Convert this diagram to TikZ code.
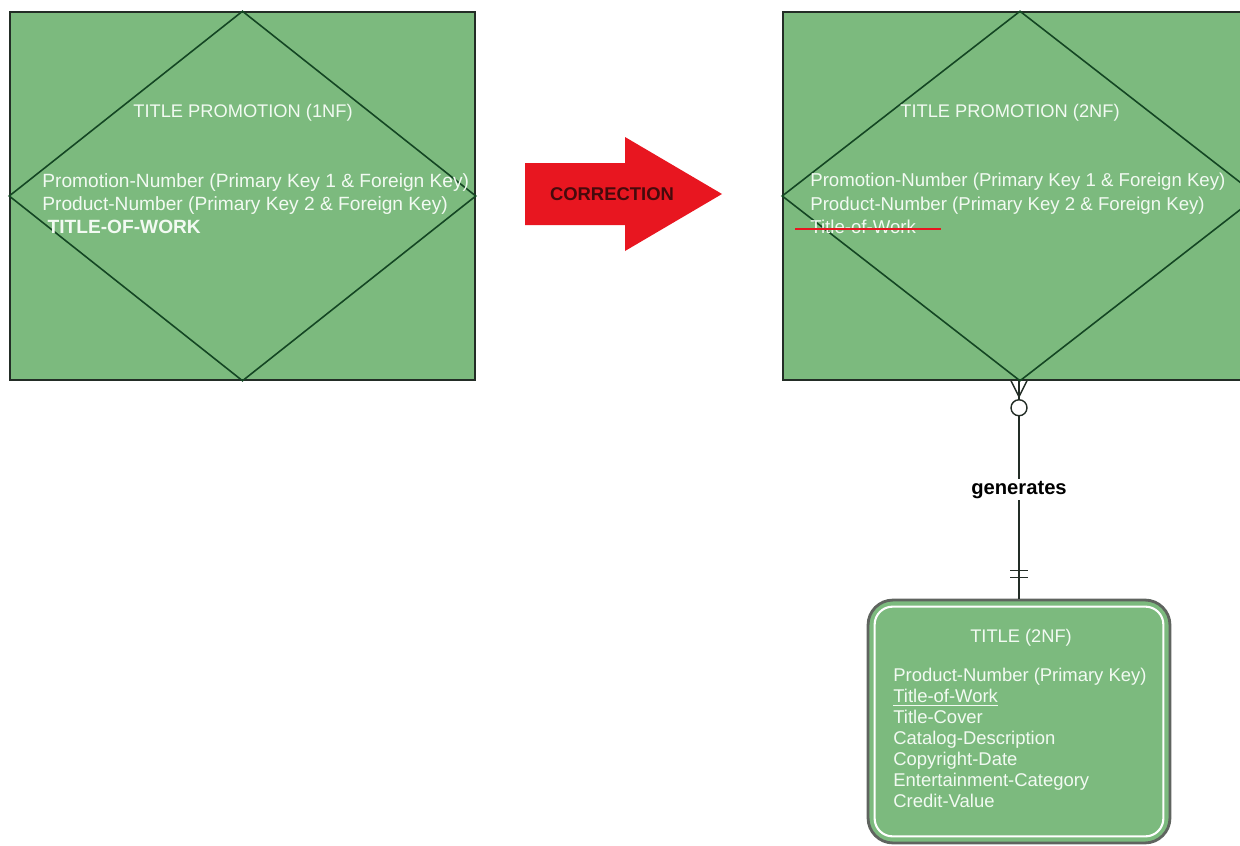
\documentclass[tikz,border=0pt]{standalone}
\usepackage{fontspec}
\setmainfont{Liberation Sans}
\usetikzlibrary{positioning,calc}
\usepackage{xcolor}
\definecolor{ERGreen}{RGB}{124,186,126}
\definecolor{ERLine}{RGB}{35,45,38}
\definecolor{ERDiamond}{RGB}{20,70,35}
\definecolor{ERGray}{RGB}{95,100,95}
\definecolor{ERRed}{RGB}{232,22,32}
\definecolor{ERDark}{RGB}{70,10,12}
\definecolor{ERText}{RGB}{242,250,242}

\begin{document}
\begin{tikzpicture}[
x=0.02cm,y=-0.02cm,
entity/.style={
rectangle,
draw=ERLine,
line width=0.9pt,
fill=ERGreen,
inner sep=0pt
},
weakentity/.style={
rectangle,
rounded corners=0.5cm,
draw=ERGray,
line width=1.6pt,
fill=ERGreen,
minimum width=6.04cm,
minimum height=4.86cm
},
diamondline/.style={
draw=ERDiamond,
line width=0.9pt
},
heading/.style={
text=ERText,
inner sep=0pt,
font=\fontsize{10.4}{12}\selectfont
},
attrs/.style={
text=ERText,
align=left,
anchor=north west,
inner sep=0pt,
font=\fontsize{10.6}{13.3}\selectfont
},
strike/.style={
draw=ERRed,
line width=1pt
},
relline/.style={
draw=ERLine,
line width=0.8pt
},
rellabel/.style={
fill=white,
inner sep=1pt,
font=\bfseries\fontsize{11.5}{13}\selectfont
}
]

\useasboundingbox (0,0) rectangle (1240,845);

% 1NF entity
\node[entity,minimum width=9.3cm,minimum height=7.36cm] (promo1) at (242.5,196) {};
\draw[diamondline] (promo1.north) -- (promo1.east) -- (promo1.south) -- (promo1.west) -- cycle;
\node[heading] (promo1title) at (243,113) {TITLE PROMOTION (1NF)};
\node[attrs,font=\fontsize{10.9}{13.3}\selectfont] (promo1keys) at (42,173) {Promotion-Number (Primary Key 1 \& Foreign Key)\\Product-Number (Primary Key 2 \& Foreign Key)\\\hspace{3pt}\textbf{TITLE-OF-WORK}};

% correction arrow
\fill[ERRed] (525,163) -- (625,163) -- (625,137) -- (722,194) -- (625,251) -- (625,225) -- (525,225) -- cycle;
\node[text=ERDark,font=\bfseries\fontsize{10.5}{12}\selectfont] (correction) at (612,194) {CORRECTION};

% 2NF entity
\node[entity,minimum width=9.48cm,minimum height=7.36cm] (promo2) at (1020,196) {};
\draw[diamondline] (promo2.north) -- (promo2.east) -- (promo2.south) -- (promo2.west) -- cycle;
\node[heading] (promo2title) at (1010,113) {TITLE PROMOTION (2NF)};
\node[attrs] (promo2keys) at (810,173) {Promotion-Number (Primary Key 1 \& Foreign Key)\\Product-Number (Primary Key 2 \& Foreign Key)};
\node[attrs] (oldattr) at (810,220) {Title-of-Work};
\draw[strike] ([xshift=-0.3cm,yshift=0.09cm]oldattr.base west) -- ([xshift=0.5cm,yshift=0.09cm]oldattr.base east);

% TITLE entity
\node[weakentity] (title2nf) at (1019,721.5) {};
\draw[white,line width=1.2pt,rounded corners=0.36cm] ($(title2nf.south west)+(8,-8)$) rectangle ($(title2nf.north east)+(-8,8)$);
\node[heading] (title2nftitle) at (1021,638) {TITLE (2NF)};
\node[attrs,font=\fontsize{10.5}{11.9}\selectfont] (title2nfattrs) at (893,668) {Product-Number (Primary Key)\\\underline{Title-of-Work}\\Title-Cover\\Catalog-Description\\Copyright-Date\\Entertainment-Category\\Credit-Value};

% relationship
\coordinate (fk) at (title2nf.north |- promo2.south);
\draw[relline] (fk) -- node[rellabel,pos=0.5] (genlabel) {generates} (title2nf.north);
\draw[relline] ($(fk)+(-8,0)$) -- ($(fk)+(0,16)$) -- ($(fk)+(8,0)$);
\draw[relline,fill=white] ($(fk)+(0,27)$) circle[radius=0.16cm];
\draw[relline] ($(title2nf.north)+(-9,-28)$) -- ++(18,0);
\draw[relline] ($(title2nf.north)+(-9,-21)$) -- ++(18,0);

\end{tikzpicture}
\end{document}
